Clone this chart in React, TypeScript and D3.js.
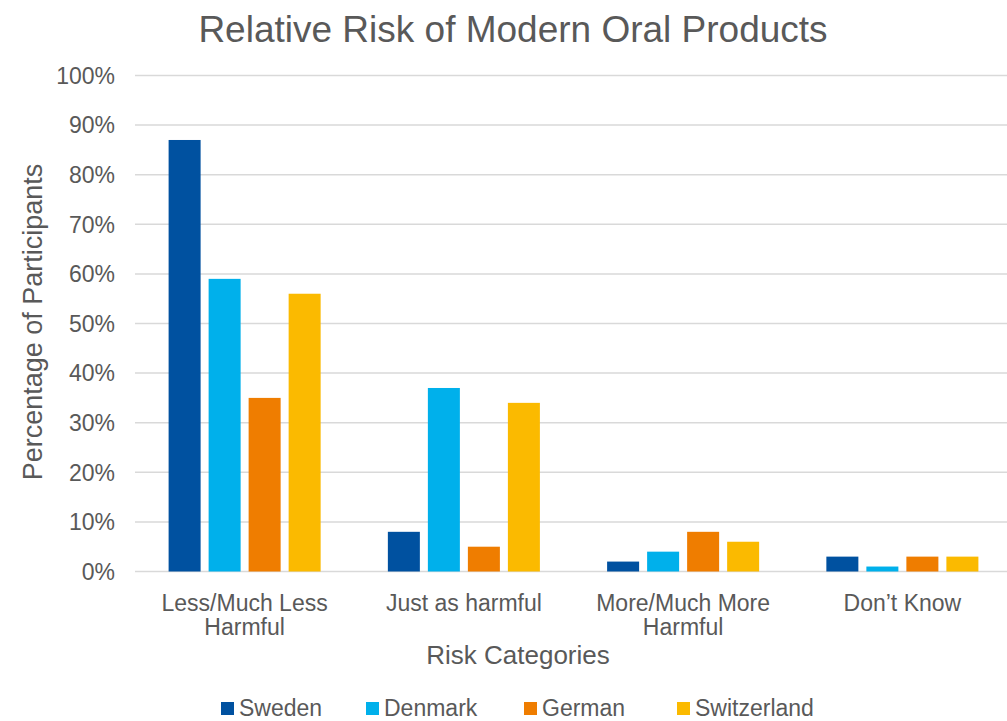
import React from "react";
import * as d3 from "d3";

const categories = [["Less/Much Less", "Harmful"], ["Just as harmful"], ["More/Much More", "Harmful"], ["Don’t Know"]];
const series = ["Sweden", "Denmark", "German", "Switzerland"];
const colors = ["#0051A0", "#00B0EB", "#EF7D00", "#FBBA00"];
const sweden = [87, 8, 2, 3];
const denmark = [59, 37, 4, 1];
const german = [35, 5, 8, 3];
const switzerland = [56, 34, 6, 3];
const yTicks = [0, 10, 20, 30, 40, 50, 60, 70, 80, 90, 100];

const values = [sweden, denmark, german, switzerland];

export default function App() {
  const W = 1007, H = 721;
  const font = "'Liberation Sans', Arial, sans-serif";
  const textColor = "#595959";
  const x0 = d3.scaleBand<number>().domain(categories.map((_, i) => i)).range([135, 1012]);
  const x1 = d3.scaleBand<string>().domain(series).range([0, x0.bandwidth()]).paddingInner(0.2).paddingOuter(0.84);
  const y = d3.scaleLinear().domain([0, 100]).range([571.5, 75.5]);
  const legendX = [221, 366, 524, 677];

  return (
    <svg width={W} height={H} style={{ position: "absolute", left: 0, top: 0, background: "#fff" }} fontFamily={font}>
      <rect x={0} y={0} width={W} height={H} fill="#fff" />
      <text x={513} y={42} textAnchor="middle" fontSize={37} fill={textColor}>Relative Risk of Modern Oral Products</text>
      {yTicks.map(t => (
        <g key={t}>
          <line x1={135} x2={1012} y1={y(t)} y2={y(t)} stroke="#D9D9D9" strokeWidth={1.5} />
          <text x={115} y={y(t)} dy="0.36em" textAnchor="end" fontSize={23} fill={textColor}>{t}%</text>
        </g>
      ))}
      {categories.map((_, ci) => (
        <g key={ci}>
          {series.map((s, si) => {
            const v = values[si][ci];
            return (
              <rect key={s} x={(x0(ci) as number) + (x1(s) as number)} y={y(v)} width={x1.bandwidth()}
                height={y(0) - y(v)} fill={colors[si]} />
            );
          })}
        </g>
      ))}
      {categories.map((lines, ci) => (
        <text key={ci} x={(x0(ci) as number) + x0.bandwidth() / 2} y={611} textAnchor="middle" fontSize={23} fill={textColor}>
          {lines.map((l, li) => (
            <tspan key={li} x={(x0(ci) as number) + x0.bandwidth() / 2} dy={li === 0 ? 0 : 24}>{l}</tspan>
          ))}
        </text>
      ))}
      <text x={518} y={664} textAnchor="middle" fontSize={26} fill={textColor}>Risk Categories</text>
      <text transform="translate(42,322) rotate(-90)" textAnchor="middle" fontSize={27} fill={textColor}>Percentage of Participants</text>
      {series.map((s, i) => (
        <g key={s}>
          <rect x={legendX[i]} y={702} width={13} height={13} fill={colors[i]} />
          <text x={legendX[i] + 18} y={716} fontSize={23} fill={textColor}>{s}</text>
        </g>
      ))}
    </svg>
  );
}
